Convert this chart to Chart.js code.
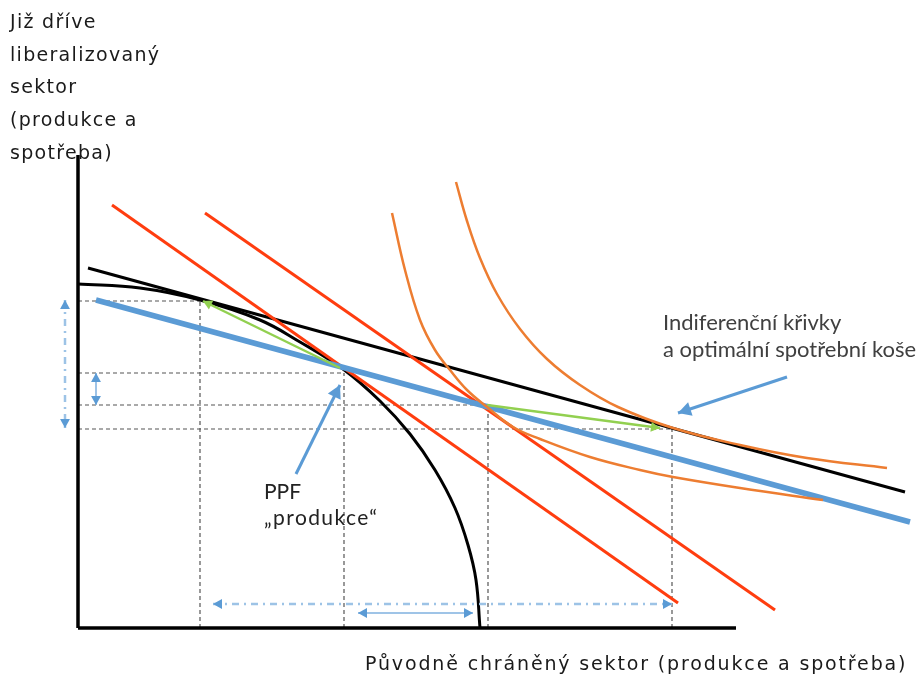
<!DOCTYPE html>
<html><head><meta charset="utf-8">
<script src="https://cdn.jsdelivr.net/npm/chart.js@4"></script>
<style>
body{margin:0;background:#fff;}
#wrap{position:relative;width:922px;height:682px;overflow:hidden;background:#fff;}
#c{position:absolute;left:0;top:0;}
.t{position:absolute;white-space:nowrap;}
#ylab{left:10px;top:5px;font:19px "DejaVu Sans";letter-spacing:1.3px;line-height:32.7px;color:#1a1a1a;}
#xlab{left:365px;top:650px;font:19px "DejaVu Sans";letter-spacing:1.85px;line-height:26px;color:#1a1a1a;}
#icnote{left:663px;top:308px;font:22px Lato;line-height:27px;color:#404040;}
#ppfnote{left:264px;top:478px;font:21px Lato;line-height:26px;color:#222;}
#ppfnote span{letter-spacing:1.4px;}
</style></head><body>
<div id="wrap">
<canvas id="c" width="922" height="682"></canvas>
<div class="t" id="ylab">Již dříve<br>liberalizovaný<br>sektor<br>(produkce a<br>spotřeba)</div>
<div class="t" id="xlab">Původně chráněný sektor (produkce a spotřeba)</div>
<div class="t" id="icnote">Indiferenční křivky<br>a optimální spotřební koše</div>
<div class="t" id="ppfnote">PPF<br><span>„produkce“</span></div>
</div>
<script>
// ---- data (schematic units) ----
const axisX = [0, 65.8];          // horizontal axis extent
const axisY = [0, 47.3];          // vertical axis extent
const ppfX = [0, 6.2, 12.2, 18.2, 22.2, 26.5, 30.2, 33.2, 35.7, 37.7, 39.0, 39.8, 40.2];
const ppfY = [34.4, 34.0, 32.8, 30.8, 28.6, 25.9, 22.7, 19.4, 15.8, 12.0, 8.3, 4.8, 0];
const ic1X = [31.4, 32.7, 34.2, 35.7, 37.2, 38.9, 40.9, 43.5, 46.2, 51.2, 56.2, 59.5, 66.2, 74.5];
const ic1Y = [41.5, 35.8, 30.8, 27.8, 25.8, 23.8, 22.1, 20.1, 18.9, 17.1, 15.8, 15.1, 14.0, 12.8];
const ic2X = [37.8, 38.9, 40.2, 41.9, 44.2, 46.9, 50.2, 54.0, 59.5, 66.2, 72.9, 80.9];
const ic2Y = [44.6, 40.7, 37.0, 33.4, 29.9, 26.9, 24.3, 22.1, 20.0, 18.3, 17.0, 16.0];
const tangentX = [1.0, 82.7],  tangentY = [36.0, 13.6];
const budgetX  = [1.8, 83.2],  budgetY  = [32.8, 10.6];
const price1X  = [3.4, 60.0],  price1Y  = [42.3, 2.5];
const price2X  = [12.7, 69.7], price2Y  = [41.5, 1.8];
const trade1X  = [26.2, 12.5], trade1Y  = [26.0, 32.7];
const trade2X  = [40.9, 58.2], trade2Y  = [22.3, 20.0];
const guideX = [12.2, 26.6, 41.0, 59.4];
const guideY = [32.7, 25.5, 22.3, 19.9];
const spanBigY = [32.8, 20.0],  spanBigYx = -1.3;
const spanSmallY = [25.5, 22.3], spanSmallYx = 1.8;
const spanBigX = [13.5, 59.4],  spanBigXy = 2.4;
const spanSmallX = [28.0, 39.5], spanSmallXy = 1.5;
const ppfPointerX = [21.8, 26.2], ppfPointerY = [15.4, 24.3];
const icPointerX = [70.9, 60.0],  icPointerY = [25.1, 21.5];

const pts = (xs, ys) => xs.map((x, i) => ({x, y: ys[i]}));
const BLUE = '#5B9BD5', RED = '#FF3D0F', ORANGE = '#ED7D31', GREEN = '#92D050';

const datasets = [];
function add(data, opts, order){
  datasets.push(Object.assign({data, pointRadius:0, tension:0, fill:false, borderCapStyle:'butt', order}, opts));
}
// guides (bottom)
guideX.forEach((gx, i) => {
  add(pts([0, gx], [guideY[i], guideY[i]]), {borderColor:'#555', borderWidth:1.2, borderDash:[4,3]}, 90);
  add(pts([gx, gx], [0, guideY[i]]), {borderColor:'#555', borderWidth:1.2, borderDash:[4,3]}, 90);
});
// axes
add(pts([0, 0], axisY), {borderColor:'#000', borderWidth:3.5}, 80);
add(pts(axisX, [0, 0]), {borderColor:'#000', borderWidth:3.5}, 80);
// PPF and tangent
add(pts(ppfX, ppfY), {borderColor:'#000', borderWidth:3, tension:0.4}, 70);
add(pts(tangentX, tangentY), {borderColor:'#000', borderWidth:3}, 70);
// price lines
add(pts(price1X, price1Y), {borderColor:RED, borderWidth:3}, 60);
add(pts(price2X, price2Y), {borderColor:RED, borderWidth:3}, 60);
// budget line
add(pts(budgetX, budgetY), {borderColor:BLUE, borderWidth:5.5}, 50);
// trade vectors
add(pts(trade1X, trade1Y), {borderColor:GREEN, borderWidth:2.5, arrows:['end'], arrowSize:9}, 40);
add(pts(trade2X, trade2Y), {borderColor:GREEN, borderWidth:2.5, arrows:['end'], arrowSize:9}, 40);
// indifference curves
add(pts(ic1X, ic1Y), {borderColor:ORANGE, borderWidth:2.5, tension:0.4}, 30);
add(pts(ic2X, ic2Y), {borderColor:ORANGE, borderWidth:2.5, tension:0.4}, 30);
// span arrows
add(pts([spanBigYx, spanBigYx], spanBigY), {borderColor:'#9DC3E6', borderWidth:2.5, borderDash:[7,5,2,5], arrows:['start','end'], arrowColor:BLUE, arrowSize:9}, 20);
add(pts([spanSmallYx, spanSmallYx], spanSmallY), {borderColor:'#7FB0DF', borderWidth:1.5, arrows:['start','end'], arrowColor:BLUE, arrowSize:9}, 20);
add(pts(spanBigX, [spanBigXy, spanBigXy]), {borderColor:'#9DC3E6', borderWidth:2.5, borderDash:[7,5,2,5], arrows:['start','end'], arrowColor:BLUE, arrowSize:9}, 20);
add(pts(spanSmallX, [spanSmallXy, spanSmallXy]), {borderColor:'#7FB0DF', borderWidth:1.5, arrows:['start','end'], arrowColor:BLUE, arrowSize:9}, 20);
// pointer arrows
add(pts(ppfPointerX, ppfPointerY), {borderColor:BLUE, borderWidth:3, arrows:['end'], arrowSize:13}, 10);
add(pts(icPointerX, icPointerY), {borderColor:BLUE, borderWidth:3, arrows:['end'], arrowSize:13}, 10);

const arrowPlugin = {
  id: 'arrows',
  afterDatasetsDraw(chart){
    const ctx = chart.ctx;
    chart.data.datasets.forEach((ds, i) => {
      if (!ds.arrows) return;
      const p = chart.getDatasetMeta(i).data;
      const draw = (tip, from) => {
        const a = Math.atan2(tip.y - from.y, tip.x - from.x);
        const L = ds.arrowSize || 10, W = L * 0.55;
        const bx = tip.x - L * Math.cos(a), by = tip.y - L * Math.sin(a);
        ctx.save();
        ctx.fillStyle = ds.arrowColor || ds.borderColor;
        ctx.beginPath();
        ctx.moveTo(tip.x, tip.y);
        ctx.lineTo(bx + W * Math.sin(a), by - W * Math.cos(a));
        ctx.lineTo(bx - W * Math.sin(a), by + W * Math.cos(a));
        ctx.closePath();
        ctx.fill();
        ctx.restore();
      };
      const n = p.length;
      if (ds.arrows.includes('end')) draw(p[n-1], p[n-2]);
      if (ds.arrows.includes('start')) draw(p[0], p[1]);
    });
  }
};

new Chart(document.getElementById('c'), {
  type: 'line',
  data: { datasets },
  options: {
    responsive: false,
    animation: false,
    layout: { padding: 0 },
    plugins: { legend: {display:false}, tooltip: {enabled:false}, title:{display:false} },
    scales: {
      x: { type:'linear', min:-7.8, max:84.4, display:false },
      y: { type:'linear', min:-5.4, max:62.8, display:false }
    }
  },
  plugins: [arrowPlugin]
});
</script>
</body></html>
